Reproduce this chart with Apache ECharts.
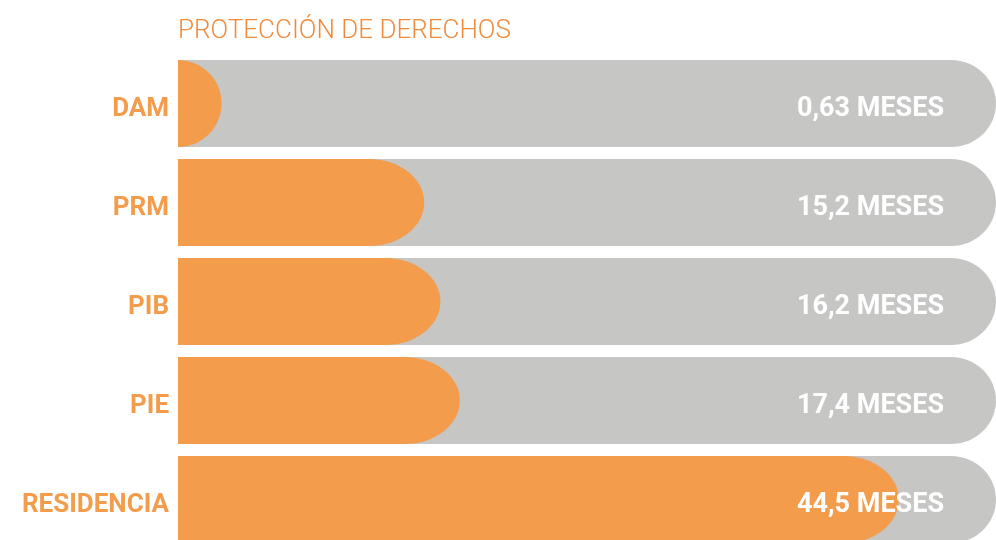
<!DOCTYPE html>
<html>
<head>
<meta charset="utf-8">
<script src="https://cdn.jsdelivr.net/npm/echarts@6/dist/echarts.min.js"></script>
<style>
  html, body { margin: 0; padding: 0; background: #ffffff; }
  #chart { width: 996px; height: 540px; }
</style>
</head>
<body>
<div id="chart"></div>
<script>
const titleText = 'PROTECCIÓN DE DERECHOS';
const categories = ['DAM', 'PRM', 'PIB', 'PIE', 'RESIDENCIA'];
const months = [0.63, 15.2, 16.2, 17.4, 44.5];
const unitLabel = 'MESES';

const ORANGE = '#F39C4C';
const TITLE_ORANGE = '#F08B3C';
const GRAY = '#C6C6C5';

const chart = echarts.init(document.getElementById('chart'), null, { renderer: 'canvas' });

function capPath(x0, x1, top, bottom, rx) {
  const cy = (top + bottom) / 2;
  const ry = (bottom - top) / 2;
  const k = 0.5523;
  const sx = x1 - rx;
  return 'M' + x0 + ',' + top +
    ' L' + sx + ',' + top +
    ' C' + (sx + k * rx) + ',' + top + ' ' + x1 + ',' + (cy - k * ry) + ' ' + x1 + ',' + cy +
    ' C' + x1 + ',' + (cy + k * ry) + ' ' + (sx + k * rx) + ',' + bottom + ' ' + sx + ',' + bottom +
    ' L' + x0 + ',' + bottom + ' Z';
}

function renderItem(params, api) {
  const cs = params.coordSys;
  const v = api.value(0);
  const idx = api.value(1);
  const pt = api.coord([v, idx]);
  const band = api.size([0, 1])[1];
  const h = band * 0.88;
  const top = pt[1] - h / 2;
  const bottom = pt[1] + h / 2;
  const x0 = cs.x;
  const xr = cs.x + cs.width;
  const end = Math.max(pt[0], x0 + h / 2);
  const rx = Math.min(55, end - x0);
  const txt = String(v).replace('.', ',') + ' ' + unitLabel;
  return {
    type: 'group',
    children: [
      { type: 'path', shape: { pathData: capPath(x0, xr, top, bottom, 45) }, style: { fill: GRAY } },
      { type: 'path', shape: { pathData: capPath(x0, end, top, bottom, rx) }, style: { fill: ORANGE } },
      { type: 'text', style: {
          text: txt, x: xr - 52, y: pt[1] + 6, align: 'right', verticalAlign: 'middle',
          fill: '#ffffff', font: 'bold 27px Roboto'
      } }
    ]
  };
}

chart.setOption({
  animation: false,
  backgroundColor: '#ffffff',
  title: {
    text: titleText,
    left: 173,
    top: 13,
    textStyle: { color: TITLE_ORANGE, fontFamily: 'Roboto', fontWeight: 300, fontSize: 26 }
  },
  grid: { left: 178, right: 0, top: 54, height: 495, containLabel: false, outerBoundsMode: 'none' },
  xAxis: { type: 'value', min: 0, max: 50.5, show: false },
  yAxis: {
    type: 'category',
    data: categories,
    inverse: true,
    axisLine: { show: false },
    axisTick: { show: false },
    splitLine: { show: false },
    axisLabel: {
      margin: 9,
      formatter: '{a|{value}}',
      rich: {
        a: {
          color: ORANGE, fontFamily: 'Roboto', fontWeight: 'bold', fontSize: 26,
          padding: [12, 0, 0, 0]
        }
      }
    }
  },
  series: [{
    type: 'custom',
    renderItem: renderItem,
    clip: false,
    encode: { x: 0, y: 1 },
    data: months.map((v, i) => [v, i])
  }]
});
</script>
</body>
</html>
